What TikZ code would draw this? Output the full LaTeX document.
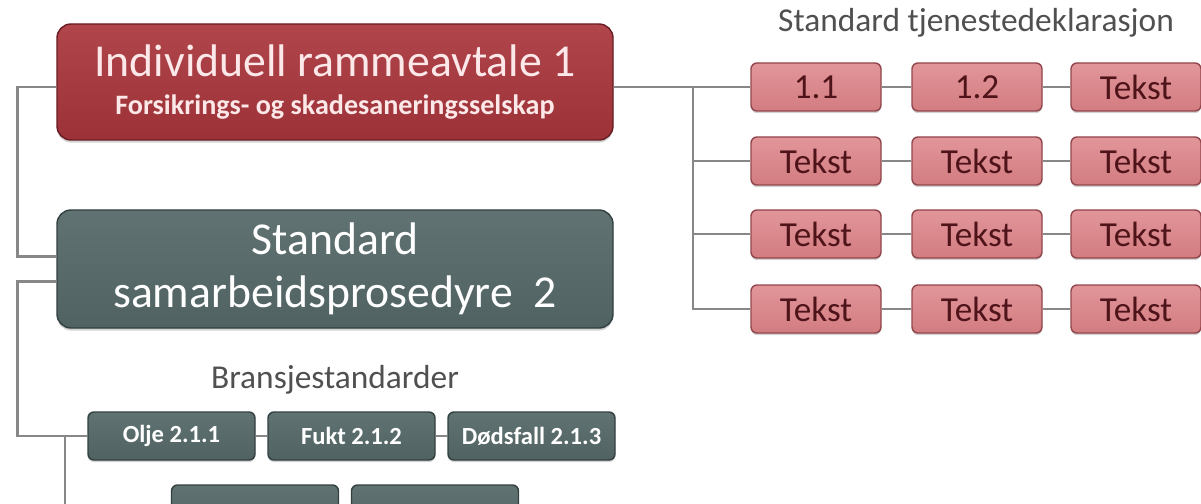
\documentclass[tikz,border=0pt]{standalone}
\usepackage{fontspec}
\setmainfont{Carlito}
\usepackage{xcolor}
\usepackage{tikz}
\usetikzlibrary{positioning, shadows}
\definecolor{avtred}{RGB}{156,50,56}
\definecolor{avtredtop}{RGB}{176,70,76}
\definecolor{avtredline}{RGB}{105,28,34}
\definecolor{avttext}{RGB}{252,232,232}
\definecolor{slategrey}{RGB}{80,98,98}
\definecolor{slatetop}{RGB}{96,114,114}
\definecolor{slateline}{RGB}{50,64,64}
\definecolor{rosefill}{RGB}{210,124,128}
\definecolor{rosetop}{RGB}{226,150,154}
\definecolor{roseline}{RGB}{145,70,76}
\definecolor{rosetext}{RGB}{78,20,26}
\definecolor{linegray}{RGB}{135,135,135}
\definecolor{hdrgray}{RGB}{80,80,80}

\begin{document}
\begin{tikzpicture}[
  avtale/.style={rectangle, rounded corners=0.28cm, draw=avtredline, thick,
                 top color=avtredtop, bottom color=avtred,
                 minimum width=11.12cm, minimum height=2.32cm,
                 align=center, text=avttext, font=\fontsize{26}{22}\selectfont,
                 drop shadow={shadow xshift=0pt, shadow yshift=-1.5pt, opacity=0.35}},
  prosed/.style={rectangle, rounded corners=0.28cm, draw=slateline, thick,
                 top color=slatetop, bottom color=slategrey,
                 minimum width=11.12cm, minimum height=2.36cm,
                 align=center, text=white, font=\fontsize{26}{30}\selectfont,
                 drop shadow={shadow xshift=0pt, shadow yshift=-1.5pt, opacity=0.35}},
  bransje/.style={rectangle, rounded corners=0.12cm, draw=slateline, thick,
                  top color=slatetop, bottom color=slategrey,
                  minimum width=3.34cm, minimum height=0.96cm, inner sep=1pt,
                  text=white, font=\fontsize{14}{16}\selectfont\bfseries,
                  drop shadow={shadow xshift=0pt, shadow yshift=-1.2pt, opacity=0.35}},
  tjen/.style={rectangle, rounded corners=0.12cm, draw=roseline, thick,
               top color=rosetop, bottom color=rosefill,
               minimum width=2.6cm, minimum height=0.96cm, inner sep=1pt,
               text=rosetext, font=\fontsize{20}{22}\selectfont,
               drop shadow={shadow xshift=0pt, shadow yshift=-1.2pt, opacity=0.35}},
  hdr/.style={text=hdrgray, font=\fontsize{19}{22}\selectfont},
  lnk/.style={draw=linegray, line width=1.4pt}
]
\useasboundingbox (0,0) rectangle (24.02,-10.08);
\clip (0,0) rectangle (24.02,-10.08);

% Main boxes
\node[avtale] (avt) at (6.70,-1.64)
  {Individuell rammeavtale 1\\
   {\fontsize{16}{20}\selectfont\bfseries Forsikrings- og skadesaneringsselskap}};
\node[prosed] (pros) at (6.70,-5.38)
  {Standard\\samarbeidsprosedyre\ \ 2};

% Bransjestandarder
\node[hdr] (bhdr) at (6.70,-7.60) {Bransjestandarder};
\node[bransje] (olje) at ( 3.43,-8.72) {Olje 2.1.1};
\node[bransje] (fukt) at ( 7.03,-8.72) {Fukt 2.1.2};
\node[bransje] (dods) at (10.63,-8.72) {Dødsfall 2.1.3};
\node[bransje] (rad1) at ( 5.10,-10.18) {};
\node[bransje] (rad2) at ( 8.70,-10.18) {};

% Tjenestedeklarasjon
\node[hdr] (thdr) at (19.52,-0.46) {Standard tjenestedeklarasjon};
\node[tjen] (t11) at (16.32,-1.74) {1.1};
\node[tjen] (t12) at (19.54,-1.74) {1.2};
\node[tjen] (t13) at (22.72,-1.74) {Tekst};
\node[tjen] (t21) at (16.32,-3.22) {Tekst};
\node[tjen] (t22) at (19.54,-3.22) {Tekst};
\node[tjen] (t23) at (22.72,-3.22) {Tekst};
\node[tjen] (t31) at (16.32,-4.68) {Tekst};
\node[tjen] (t32) at (19.54,-4.68) {Tekst};
\node[tjen] (t33) at (22.72,-4.68) {Tekst};
\node[tjen] (t41) at (16.32,-6.18) {Tekst};
\node[tjen] (t42) at (19.54,-6.18) {Tekst};
\node[tjen] (t43) at (22.72,-6.18) {Tekst};

% Left trunk
\draw[lnk] ([yshift=-0.10cm]avt.west) -- ++(-0.78,0) |- ([yshift=0.25cm]pros.west);
\draw[lnk] ([yshift=-0.25cm]pros.west) -- ++(-0.78,0) |- (olje.west);
\draw[lnk] (olje) -- (fukt);
\draw[lnk] (fukt) -- (dods);
\coordinate (bj) at (1.30,-8.72);
\draw[lnk] (bj) |- (rad1.west);
\draw[lnk] (rad1) -- (rad2);

% Right trunk
\coordinate (tj) at (13.86,-1.74);
\draw[lnk] ([yshift=-0.10cm]avt.east) -- (t11);
\draw[lnk] (tj) |- (t41.west);
\draw[lnk] (tj |- t21) -- (t21);
\draw[lnk] (tj |- t31) -- (t31);
\draw[lnk] (t11) -- (t12);
\draw[lnk] (t12) -- (t13);
\draw[lnk] (t21) -- (t22);
\draw[lnk] (t22) -- (t23);
\draw[lnk] (t31) -- (t32);
\draw[lnk] (t32) -- (t33);
\draw[lnk] (t41) -- (t42);
\draw[lnk] (t42) -- (t43);

\end{tikzpicture}
\end{document}
